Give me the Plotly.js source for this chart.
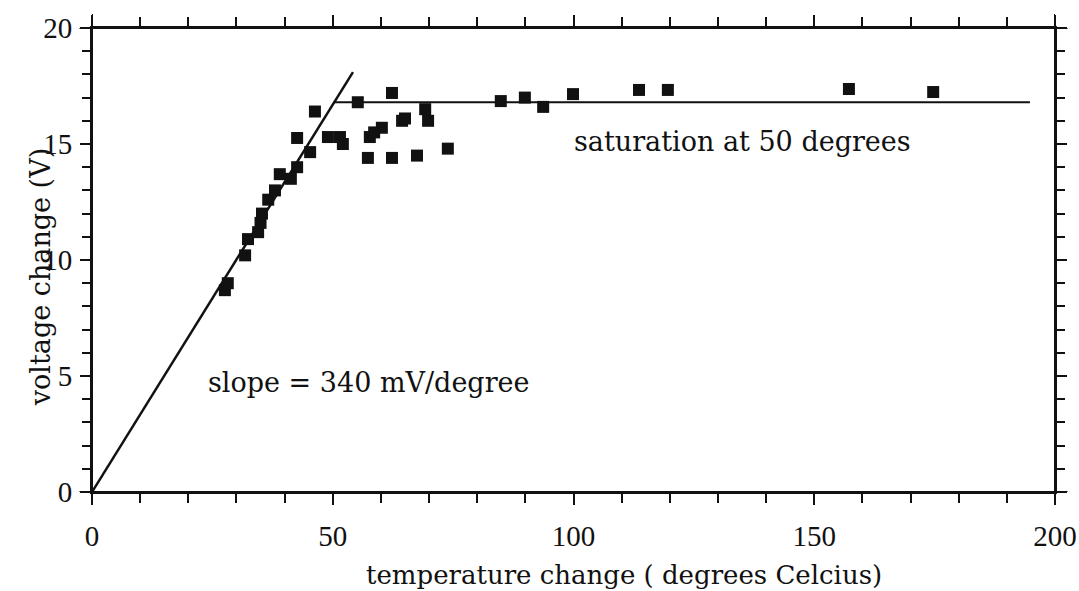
<!DOCTYPE html>
<html>
<head>
<meta charset="utf-8">
<script src="https://cdn.plot.ly/plotly-3.0.1.min.js"></script>
<style>html,body{margin:0;padding:0;background:#fff;}#chart{width:1079px;height:591px;}</style>
</head>
<body>
<div id="chart"></div>
<script>
// measured data: temperature change (deg C) vs voltage change (V)
const tempChange = [27.6, 28.2, 31.8, 32.4, 34.5, 35.3, 35.0, 36.6, 38.0, 39.0, 41.3, 42.6, 45.3, 42.6, 46.3,
  49.0, 51.5, 52.1, 55.2, 57.3, 57.7, 58.6, 60.2, 62.3, 62.3, 64.4, 65.0, 67.5, 69.2, 69.8, 73.9,
  84.9, 89.9, 93.7, 99.9, 113.6, 119.6, 157.2, 174.7];
const voltChange = [8.7, 9.0, 10.2, 10.9, 11.2, 12.0, 11.6, 12.6, 13.0, 13.7, 13.5, 14.0, 14.65, 15.26, 16.4,
  15.3, 15.3, 15.0, 16.8, 14.4, 15.3, 15.5, 15.7, 17.2, 14.4, 16.0, 16.1, 14.5, 16.5, 16.0, 14.8,
  16.85, 17.0, 16.6, 17.15, 17.33, 17.33, 17.37, 17.24];
// fitted lines
const slopeX = [0, 54.2];
const slopeY = [0, 18.1];
const satX = [50.2, 194.8];
const satY = [16.8, 16.8];

const xTicks = [0, 50, 100, 150, 200];
const yTicks = [0, 5, 10, 15, 20];

const xTitle = 'temperature change ( degrees Celcius)';
const yTitle = 'voltage change (V)';

const serif = "Liberation Serif, DejaVu Serif, serif";
const wide = "DejaVu Serif, Liberation Serif, serif";

const traces = [
  {x: slopeX, y: slopeY, mode: 'lines', line: {color: '#111', width: 2.5}, hoverinfo: 'skip'},
  {x: satX, y: satY, mode: 'lines', line: {color: '#111', width: 2}, hoverinfo: 'skip'},
  {x: tempChange, y: voltChange, mode: 'markers', marker: {symbol: 'square', size: 12, color: '#111'}}
];

const layout = {
  width: 1079, height: 591,
  margin: {l: 92, r: 24, t: 28, b: 99},
  paper_bgcolor: '#fff', plot_bgcolor: '#fff',
  showlegend: false,
  font: {family: serif, color: '#111', size: 28},
  xaxis: {
    range: [0, 200], tickvals: xTicks, ticktext: xTicks.map(String),
    showgrid: false, zeroline: false,
    showline: true, linecolor: '#111', linewidth: 2, mirror: 'ticks',
    ticks: 'outside', ticklen: 11, tickwidth: 2, tickcolor: '#111',
    minor: {dtick: 10, tick0: 0, ticks: 'outside', ticklen: 9, tickwidth: 2, tickcolor: '#111', showgrid: false},
    tickfont: {family: serif, size: 29},
    ticklabelstandoff: 6
  },
  yaxis: {
    range: [0, 20], tickvals: yTicks, ticktext: yTicks.map(String),
    showgrid: false, zeroline: false,
    showline: true, linecolor: '#111', linewidth: 2, mirror: 'ticks',
    ticks: 'outside', ticklen: 10, tickwidth: 2, tickcolor: '#111',
    minor: {dtick: 1, tick0: 0, ticks: 'outside', ticklen: 8, tickwidth: 2, tickcolor: '#111', showgrid: false},
    tickfont: {family: serif, size: 29},
    ticklabelstandoff: 2
  },
  shapes: [
    {type: 'line', xref: 'paper', yref: 'y', x0: -0.013, x1: 1.013, y0: 0, y1: 0, line: {color: '#111', width: 2}},
    {type: 'line', xref: 'paper', yref: 'y', x0: -0.013, x1: 1.013, y0: 20, y1: 20, line: {color: '#111', width: 2}},
    {type: 'line', xref: 'x', yref: 'paper', x0: 0, x1: 0, y0: -0.028, y1: 1.03, line: {color: '#111', width: 2}},
    {type: 'line', xref: 'x', yref: 'paper', x0: 200, x1: 200, y0: -0.028, y1: 1.03, line: {color: '#111', width: 2}}
  ],
  annotations: [
    {x: 99.7, y: 15.1, xref: 'x', yref: 'y', xanchor: 'left', yanchor: 'middle', showarrow: false,
     text: 'saturation at 50 degrees', font: {family: wide, size: 27, color: '#111'}},
    {x: 23.7, y: 4.7, xref: 'x', yref: 'y', xanchor: 'left', yanchor: 'middle', showarrow: false,
     text: 'slope = 340 mV/degree', font: {family: wide, size: 27, color: '#111'}},
    {x: 0.5525, y: -0.179, xref: 'paper', yref: 'paper', xanchor: 'center', yanchor: 'middle', showarrow: false,
     text: xTitle, font: {family: wide, size: 26, color: '#111'}},
    {x: -0.054, y: 0.463, xref: 'paper', yref: 'paper', xanchor: 'center', yanchor: 'middle', showarrow: false,
     textangle: -90, text: yTitle, font: {family: wide, size: 27, color: '#111'}}
  ]
};

Plotly.newPlot('chart', traces, layout, {displayModeBar: false, staticPlot: true});
</script>
</body>
</html>
